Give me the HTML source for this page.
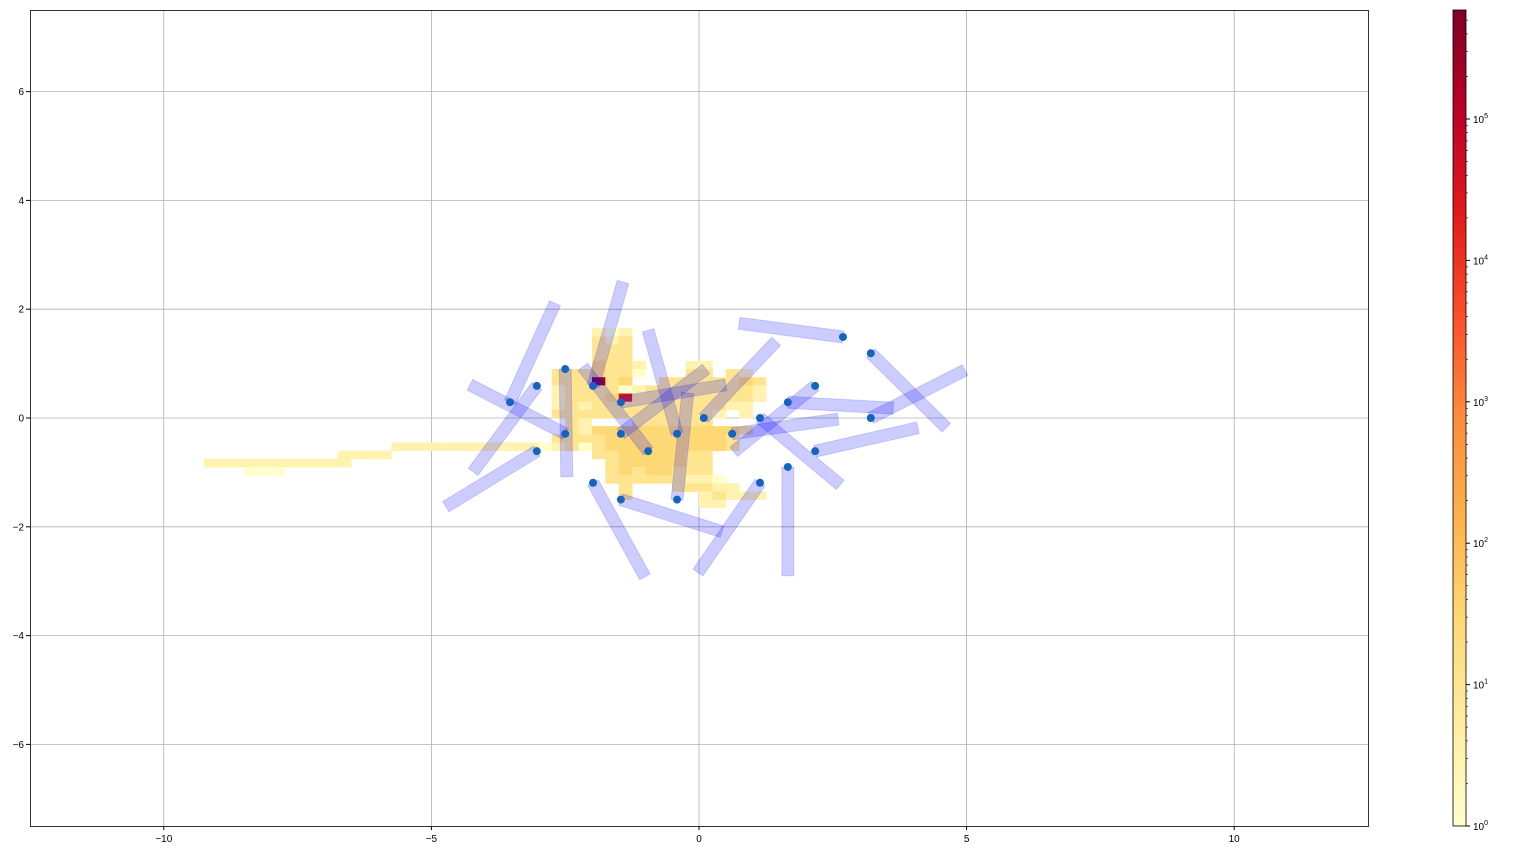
<!DOCTYPE html>
<html><head><meta charset="utf-8"><style>
body{margin:0;background:#fff;}
svg{display:block;font-family:"Liberation Sans",sans-serif;}
</style></head><body>
<svg id="chart" width="1525" height="850">
<defs><linearGradient id="cb" x1="0" y1="1" x2="0" y2="0">
<stop offset="0" stop-color="#ffffcc"/><stop offset="0.125" stop-color="#ffeda0"/><stop offset="0.25" stop-color="#fed976"/><stop offset="0.375" stop-color="#feb24c"/><stop offset="0.5" stop-color="#fd8d3c"/><stop offset="0.625" stop-color="#fc4e2a"/><stop offset="0.75" stop-color="#e31a1c"/><stop offset="0.875" stop-color="#bd0026"/><stop offset="1" stop-color="#800026"/></linearGradient></defs>
<g id="grid"></g>
<g id="heat"></g>
<g id="sticks"></g>
<g id="pts"></g>
<rect x="30.5" y="10.5" width="1338" height="816" fill="none" stroke="#000" stroke-width="0.8"/>
<g id="ticks"></g>
<rect x="1453" y="10" width="13" height="816" fill="url(#cb)" stroke="#000" stroke-width="0.8"/>
<g id="cbt"></g>
</svg>
<script>
const xTicks=[-10,-5,0,5,10];
const yTicks=[-6,-4,-2,0,2,4,6];
const cbExp=[0,1,2,3,4,5];
const ptX=[-3.53,-3.03,-2.5,-3.03,-2.5,-1.98,-1.46,-1.46,-0.95,-0.41,-0.41,-1.98,-1.46,0.09,2.69,3.21,3.21,1.66,2.17,1.14,0.62,2.17,1.66,1.14];
const ptY=[0.29,0.59,-0.29,-0.61,0.9,0.59,0.29,-0.29,-0.61,-0.29,-1.5,-1.19,-1.5,0,1.49,1.19,0,0.29,0.59,0,-0.29,-0.61,-0.9,-1.19];
const endX=[-2.69,-4.22,-4.28,-4.73,-2.47,-1.42,0.50,0.13,-2.17,-0.95,-0.21,-1.01,0.43,1.44,0.75,4.62,4.97,3.63,0.65,2.64,2.60,4.09,1.66,-0.02];
const endY=[2.11,-0.99,0.61,-1.63,-1.08,2.50,0.61,0.90,0.94,1.61,0.46,-2.92,-2.09,1.41,1.74,-0.18,0.88,0.18,-0.62,-1.23,-0.02,-0.18,-2.90,-2.84];
const heatRowTop=10, heatColLeft=-12;
const heatRows=[
"....212..........",
"....323..........",
"....333..........",
"....333..........",
"....4332...22....",
".3334331...33.32.",
".333X34..33333343",
".2333312333333332",
".23334R3333333332",
".232333333333322.",
".3333333333332.2.",
"..32...333333....",
"..32444444444443.",
".33334444444443..",
"123134444444443..",
"....334444433....",
".....34444433....",
".....34344333....",
".....333333221...",
"......3...33322..",
"......3.....23222",
"............22..."];
const levelCounts={"1":1,"2":3,"3":10,"4":30,"R":30000,"X":300000};
const tailRow=[-4,-5,-6,-7];
const tailFrom=[-23,-27,-37,-34];
const tailTo=[-13,-24,-27,-32];
const tailLevel=["2","2","2","1"];

const NS="http://www.w3.org/2000/svg";
const X=v=>699+v*53.52, Y=v=>418-v*54.4;
const CBY=e=>826-e*141.4;
function mk(t,a,p){const e=document.createElementNS(NS,t);for(const k in a)e.setAttribute(k,a[k]);p.appendChild(e);return e;}
const g=document.getElementById('grid'),tk=document.getElementById('ticks');
xTicks.forEach(v=>{const l=mk('line',{x1:X(v),x2:X(v),y1:10,y2:826,stroke:'#b0b0b0','stroke-width':0.8},g);

mk('line',{x1:X(v),x2:X(v),y1:826,y2:830,stroke:'#000'},tk);
const t=mk('text',{x:X(v),y:842,'font-size':10,'text-anchor':'middle'},tk);t.textContent=(v<0?'\u2212':'')+Math.abs(v);
});
yTicks.forEach(v=>{const l=mk('line',{y1:Y(v),y2:Y(v),x1:30,x2:1368,stroke:'#b0b0b0','stroke-width':0.8},g);

mk('line',{y1:Y(v),y2:Y(v),x1:26,x2:30,stroke:'#000'},tk);
const t=mk('text',{x:24,y:Y(v)+3.5,'font-size':10,'text-anchor':'end'},tk);t.textContent=(v<0?'\u2212':'')+Math.abs(v);
});
const stops=["#ffffcc","#ffeda0","#fed976","#feb24c","#fd8d3c","#fc4e2a","#e31a1c","#bd0026","#800026"];
function cmap(cnt){let f=Math.log10(cnt)/5.8;f=Math.max(0,Math.min(1,f))*8;const i=Math.min(7,Math.floor(f)),u=f-i;
const a=stops[i],b=stops[i+1];const c=k=>Math.round(parseInt(a.substr(k,2),16)*(1-u)+parseInt(b.substr(k,2),16)*u);
return `rgb(${c(1)},${c(3)},${c(5)})`;}
const h=document.getElementById('heat');
function cell(c,r,lv){const x0=X(c*0.25),x1=X((c+1)*0.25),y0=Y((r+1)*0.15),y1=Y(r*0.15);
const e=mk('rect',{x:x0,y:y0,width:x1-x0+0.4,height:y1-y0+0.4,fill:cmap(levelCounts[lv])},h);
}
tailRow.forEach((r,i)=>{for(let c=tailFrom[i];c<=tailTo[i];c++)cell(c,r,tailLevel[i]);});
heatRows.forEach((s,j)=>{const r=heatRowTop-j;for(let i=0;i<s.length;i++){const ch=s[i];if(levelCounts[ch])cell(heatColLeft+i,r,ch);}});
const st=document.getElementById('sticks');
ptX.forEach((_,i)=>{const x1=X(ptX[i]),y1=Y(ptY[i]),x2=X(endX[i]),y2=Y(endY[i]);
const dx=x2-x1,dy=y2-y1,L=Math.hypot(dx,dy),nx=-dy/L*6,ny=dx/L*6;
const p=mk('polygon',{points:`${x1+nx},${y1+ny} ${x2+nx},${y2+ny} ${x2-nx},${y2-ny} ${x1-nx},${y1-ny}`,fill:'rgba(0,0,255,0.2)',stroke:'rgba(0,0,255,0.15)','stroke-width':1},st);
});
const pg=document.getElementById('pts');
ptX.forEach((_,i)=>{const c=mk('circle',{cx:X(ptX[i]),cy:Y(ptY[i]),r:4,fill:'#1565c0'},pg);
});
const cb=document.getElementById('cbt');
cbExp.forEach(e=>{const y=CBY(e);mk('line',{x1:1466,x2:1470,y1:y,y2:y,stroke:'#000'},cb);
const t=mk('text',{x:1473,y:y+4,'font-size':10},cb);t.textContent='10';
const s=mk('tspan',{dy:-5,'font-size':7},t);s.textContent=String(e);

for(let m=2;m<10&&e<5.8;m++){const ym=CBY(e+Math.log10(m));if(ym>10)mk('line',{x1:1466,x2:1468,y1:ym,y2:ym,stroke:'#000','stroke-width':0.6},cb);}});
</script>
</body></html>
